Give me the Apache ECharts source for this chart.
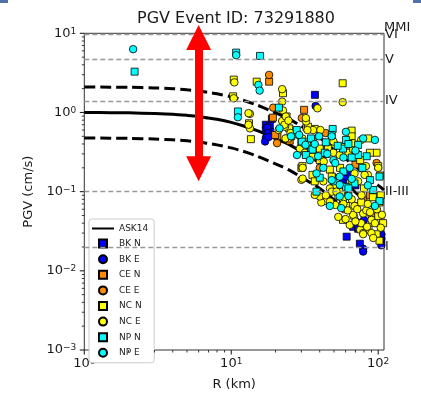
<!DOCTYPE html>
<html><head><meta charset="utf-8">
<script src="https://cdn.jsdelivr.net/npm/echarts@6/dist/echarts.min.js"></script>
<style>html,body{margin:0;padding:0;background:#fff}#c{width:421px;height:393px}</style>
</head><body><div id="c"></div>
<script>
const titleText = 'PGV Event ID: 73291880';
const xName = 'R (km)';
const yName = 'PGV (cm/s)';

// axis ranges
const xMin = 1, xMax = 109.5;
const yMin = 0.001, yMax = 10;

// ASK14 model curves
const lineR     = [1, 1.5, 2, 3, 4, 5, 6, 7, 8, 10, 12, 15, 20, 25, 30, 40, 50, 60, 70, 80, 90, 100, 109.5];
const askMedian = [1.00, 0.995, 0.99, 0.97, 0.95, 0.92, 0.89, 0.85, 0.82, 0.75, 0.68, 0.59, 0.47, 0.39, 0.32, 0.23, 0.165, 0.125, 0.098, 0.079, 0.066, 0.057, 0.05];
const askUpper  = [2.10, 2.09, 2.08, 2.04, 2.00, 1.93, 1.87, 1.79, 1.72, 1.58, 1.43, 1.24, 0.99, 0.82, 0.67, 0.48, 0.35, 0.26, 0.21, 0.166, 0.139, 0.12, 0.105];
const askLower  = [0.476, 0.474, 0.471, 0.462, 0.452, 0.438, 0.424, 0.405, 0.39, 0.357, 0.324, 0.281, 0.224, 0.186, 0.152, 0.11, 0.079, 0.06, 0.047, 0.038, 0.031, 0.027, 0.024];

// MMI thresholds
const mmiLevels = [0.02, 0.1, 1.4, 4.7, 9.6];
const mmiLabels = ['I', 'II-III', 'IV', 'V', 'VI'];

// red double arrow (x, head centres)
const arrowR = 6.0;
const arrowTop = 8.85;
const arrowBottom = 0.195;

// observations [R km, PGV cm/s]
const bkN = [[17.2,0.70],[18.3,0.68],[17.2,0.60],[18.3,0.57],[18.9,0.83],[17.6,0.64],[37.1,1.67],[57.6,0.141],[61,0.027],[67.5,0.036],[73,0.034],[75,0.022],[105,0.024],[105,0.027],[44,0.30],[70,0.12]];
const bkE = [[17.7,0.55],[17.2,0.48],[17.0,0.43],[18.0,0.49],[37.5,1.21],[60.3,0.155],[80,0.044],[79,0.019],[79,0.0175],[105,0.029],[105,0.021],[64,0.17]];
const ceN = [[18.1,2.45],[19.2,0.86],[20.6,0.50],[31.3,1.08],[45,0.35],[70,0.22],[88,0.09],[60,0.06],[25,0.44],[19.9,0.52]];
const ceE = [[18.1,2.98],[19.3,1.15],[20.5,0.41],[30.2,0.85],[97.5,0.23],[79,0.079],[55,0.12],[90,0.05],[40,0.20],[44,0.55]];
const ncN = [[10.4,2.6],[14.9,2.45],[22.5,1.75],[10.3,1.6],[13.2,0.73],[13.6,0.46],[57.3,2.34],[32.5,0.65],[37,0.62],[65.9,0.59],[65.9,0.50],[85.5,0.47],[25.6,0.50],[30,0.43],[33.3,0.66],[30,0.20],[37,0.28],[46.9,0.19],[59,0.37],[97.5,0.31],[100,0.21],[62.7,0.088],[60.3,0.066],[57.6,0.044],[71,0.066],[102,0.073],[100,0.049],[97.5,0.029],[102,0.024],[30.5,0.43],[40,0.35],[45.5,0.35],[62.7,0.31],[67.5,0.35],[75.4,0.25],[87.8,0.31],[103,0.16],[48.3,0.155],[43.3,0.076],[76.6,0.073],[57.6,0.079],[23.8,0.89],[24.2,0.47],[30.5,0.21],[35.7,0.163],[37,0.135],[24.8,0.63],[50,0.12],[56,0.10],[66,0.13],[80,0.11],[92,0.085],[104,0.09],[86,0.033],[108,0.04],[40,0.25],[55,0.20]];
const ncE = [[10.5,2.4],[22.2,1.97],[10.4,1.51],[22.2,1.37],[22.5,1.06],[13.4,0.96],[23.4,0.86],[22.2,0.78],[13.4,0.63],[57.3,1.35],[38.6,1.13],[32.3,0.77],[40.4,0.60],[23.2,0.66],[28.6,0.52],[29.3,0.35],[30,0.141],[36,0.60],[49.6,0.31],[51,0.39],[67.5,0.41],[71,0.31],[82.5,0.21],[85,0.163],[41,0.073],[40,0.087],[46.9,0.11],[53.5,0.048],[68.5,0.048],[79,0.053],[90,0.044],[75.4,0.033],[79,0.030],[90,0.030],[92.5,0.026],[30.9,0.41],[31.7,0.31],[36,0.43],[42.6,0.24],[30.6,0.20],[30.6,0.146],[49.6,0.43],[54.7,0.29],[76.6,0.45],[100,0.20],[80.8,0.163],[69,0.17],[73,0.135],[53.5,0.087],[51,0.068],[69,0.066],[83,0.058],[106,0.051],[67.5,0.051],[64,0.038],[76.6,0.040],[79,0.029],[42.3,0.135],[48.3,0.10],[37,0.091],[13.1,0.98],[21,0.60],[23,0.70],[23.5,0.89],[30.5,0.47],[33,0.39],[35.7,0.28],[33,0.60],[32.2,0.85],[13.1,0.70],[24.5,0.79],[25.3,0.55],[23.4,0.47],[44,0.09],[47,0.075],[52,0.10],[58,0.07],[62,0.058],[66,0.08],[72,0.06],[77,0.09],[85,0.07],[88,0.055],[95,0.04],[98,0.06],[104,0.035],[60,0.045],[70,0.042],[84,0.036]];
const npN = [[2.2,3.28],[10.8,5.7],[15.7,5.18],[21.1,1.15],[11.1,1.03],[49,0.62],[48.3,0.52],[27.9,0.60],[35,0.34],[38,0.10],[60.3,0.45],[73,0.39],[83.5,0.28],[102,0.155],[60.3,0.115],[35,0.35],[57.6,0.35],[62.7,0.40],[73,0.29],[69,0.127],[62.7,0.11],[92.5,0.105],[102,0.076],[43.3,0.31],[30.2,0.43],[34.9,0.47],[35.7,0.34],[32.2,0.29],[44,0.42],[53,0.38],[66,0.27],[78,0.20],[88,0.14],[40,0.15],[58,0.18]];
const npE = [[2.15,6.3],[10.8,5.3],[15.3,2.23],[15.6,1.89],[11.1,0.87],[21.3,0.63],[39.6,0.50],[38,0.17],[60.3,0.57],[79,0.47],[54.7,0.155],[54.7,0.087],[46.9,0.066],[95,0.066],[48.3,0.50],[34.3,0.25],[39,0.28],[42.3,0.20],[49.6,0.25],[49.6,0.135],[54.7,0.122],[62.7,0.088],[56,0.062],[51,0.23],[48.3,0.14],[64,0.20],[25.5,0.50],[29,0.52],[32,0.39],[28,0.29],[95,0.45],[45,0.30],[58,0.27],[70,0.33],[85,0.12],[37,0.40],[66,0.145]];

// tick values
const xMajor = [1, 10, 100];
const xMinor = [2,3,4,5,6,7,8,9,20,30,40,50,60,70,80,90];
const yMajor = [0.001, 0.01, 0.1, 1, 10];
const yMinor = [0.002,0.003,0.004,0.005,0.006,0.007,0.008,0.009,0.02,0.03,0.04,0.05,0.06,0.07,0.08,0.09,0.2,0.3,0.4,0.5,0.6,0.7,0.8,0.9,2,3,4,5,6,7,8,9];

const FONT = 'DejaVu Sans';
const TXT = '#1a1a1a';
const AX = '#333';
const TICK = '#222';

function expFmt(v) {
  const e = Math.round(Math.log10(v));
  return '{b|10}{s|' + (e < 0 ? '\u2212' + (-e) : e) + '}';
}
const richSup = {
  b: {fontSize: 13, fontFamily: FONT, color: TXT, padding: [3, 0, 3, 0], lineHeight: 13},
  s: {fontSize: 9, fontFamily: FONT, color: TXT, verticalAlign: 'top', lineHeight: 9}
};

function pairs(xs, ys) { return xs.map((x, i) => [x, ys[i]]); }

function scatter(name, data, symbol, color) {
  return {
    name, type: 'scatter', data, symbol,
    symbolSize: symbol === 'rect' ? 7 : 7.5,
    itemStyle: {color, borderColor: '#000', borderWidth: 0.8, opacity: 1},
    z: 3, animation: false, silent: true
  };
}

// tick marks drawn through the axis scales
function tickSeries(values, dir, len, w) {
  return {
    type: 'custom', coordinateSystem: 'cartesian2d', clip: false, silent: true, z: 4,
    animation: false,
    data: values.map(v => dir === 'x' ? [v, yMin] : [xMin, v]),
    renderItem: (params, api) => {
      const p = api.coord([api.value(0), api.value(1)]);
      const shape = dir === 'x'
        ? {x1: p[0], y1: p[1], x2: p[0], y2: p[1] + len}
        : {x1: p[0] - len, y1: p[1], x2: p[0], y2: p[1]};
      return {type: 'line', shape, style: {stroke: TICK, lineWidth: w}};
    }
  };
}

const SQUARE = 'path://M0,0H10V10H0Z';

const chart = echarts.init(document.getElementById('c'), null, {renderer: 'canvas'});
chart.setOption({
  animation: false,
  backgroundColor: '#fff',
  title: {
    text: titleText, left: 137, top: 11, padding: 0,
    textStyle: {fontSize: 16, fontWeight: 'normal', color: TXT, fontFamily: FONT}
  },
  grid: {
    left: 84.3, top: 33.3, right: 37, bottom: 43,
    show: true, borderColor: AX, borderWidth: 1, backgroundColor: 'transparent',
    containLabel: false, outerBoundsMode: 'none'
  },
  legend: {
    orient: 'vertical', left: 89, top: 219,
    data: [
      {name: 'ASK14', itemStyle: {opacity: 0, color: 'rgba(0,0,0,0)', borderWidth: 0}},
      {name: 'BK N', icon: SQUARE},
      {name: 'BK E', icon: 'circle'},
      {name: 'CE N', icon: SQUARE},
      {name: 'CE E', icon: 'circle'},
      {name: 'NC N', icon: SQUARE},
      {name: 'NC E', icon: 'circle'},
      {name: 'NP N', icon: SQUARE},
      {name: 'NP E', icon: 'circle'}
    ],
    symbolKeepAspect: true,
    itemWidth: 22, itemHeight: 8, itemGap: 5.6,
    padding: [5, 6, 5, 2],
    backgroundColor: '#fff', borderColor: '#ccc', borderWidth: 1, borderRadius: 3,
    textStyle: {fontSize: 9, fontFamily: FONT, color: '#222'},
    selectedMode: false
  },
  graphic: [
    {type: 'text', left: 384, top: 21, style: {text: 'MMI', fontSize: 13, fontFamily: FONT, fill: TXT}},
    {type: 'rect', shape: {x: 0, y: 0, width: 8, height: 3}, style: {fill: '#4f73a8'}},
    {type: 'rect', shape: {x: 413, y: 0, width: 8, height: 3}, style: {fill: '#4f73a8'}}
  ],
  xAxis: {
    type: 'log', logBase: 10, min: xMin, max: xMax, position: 'bottom',
    axisLine: {show: false}, splitLine: {show: false}, axisTick: {show: false},
    axisLabel: {customValues: xMajor, formatter: expFmt, rich: richSup, margin: 7},
    name: xName, nameLocation: 'middle', nameGap: 27,
    nameTextStyle: {fontSize: 13, fontFamily: FONT, color: TXT}
  },
  yAxis: {
    type: 'log', logBase: 10, min: yMin, max: yMax, position: 'left',
    axisLine: {show: false}, splitLine: {show: false}, axisTick: {show: false},
    axisLabel: {customValues: yMajor, formatter: expFmt, rich: richSup, margin: 8},
    name: yName, nameLocation: 'middle', nameGap: 46, nameRotate: 90,
    nameTextStyle: {fontSize: 13, fontFamily: FONT, color: TXT}
  },
  series: [
    {
      name: 'mmi', type: 'line', data: [], z: 1, silent: true,
      markLine: {
        silent: true, symbol: ['none', 'none'], animation: false,
        lineStyle: {color: '#999', type: [5, 3], width: 1.4},
        label: {position: 'end', distance: 1, formatter: '{b}', color: TXT, fontSize: 13, fontFamily: FONT},
        data: mmiLevels.map((v, i) => ({yAxis: v, name: mmiLabels[i]}))
      }
    },
    {
      name: 'ASK14', type: 'line', data: pairs(lineR, askMedian), symbol: 'none', smooth: 0.3,
      lineStyle: {color: '#000', width: 3}, itemStyle: {color: 'rgba(0,0,0,0)', borderWidth: 0}, z: 2, silent: true
    },
    {
      name: 'ASK14 +1σ', type: 'line', data: pairs(lineR, askUpper), symbol: 'none', smooth: 0.3,
      lineStyle: {color: '#000', width: 3, type: [11, 5]}, z: 2, silent: true
    },
    {
      name: 'ASK14 -1σ', type: 'line', data: pairs(lineR, askLower), symbol: 'none', smooth: 0.3,
      lineStyle: {color: '#000', width: 3, type: [11, 5]}, z: 2, silent: true
    },
    scatter('BK N', bkN, 'rect', '#0000ff'),
    scatter('BK E', bkE, 'circle', '#0000ff'),
    scatter('CE N', ceN, 'rect', '#ff8c00'),
    scatter('CE E', ceE, 'circle', '#ff8c00'),
    scatter('NC N', ncN, 'rect', '#ffff00'),
    scatter('NC E', ncE, 'circle', '#ffff00'),
    scatter('NP N', npN, 'rect', '#00ffff'),
    scatter('NP E', npE, 'circle', '#00ffff'),
    tickSeries(xMajor, 'x', 4.5, 1.1),
    tickSeries(xMinor, 'x', 2.5, 0.9),
    tickSeries(yMajor, 'y', 4.5, 1.1),
    tickSeries(yMinor, 'y', 2.5, 0.9),
    {
      name: 'arrow', type: 'line', data: [], z: 6, clip: false, silent: true,
      markLine: {
        silent: true, animation: false, clip: false,
        symbol: ['triangle', 'triangle'], symbolSize: [25, 25],
        lineStyle: {color: '#ff0000', width: 8, type: 'solid', opacity: 1},
        itemStyle: {color: '#ff0000'},
        label: {show: false},
        emphasis: {disabled: true},
        data: [[{coord: [arrowR, arrowTop]}, {coord: [arrowR, arrowBottom]}]]
      }
    }
  ]
});
</script></body></html>
